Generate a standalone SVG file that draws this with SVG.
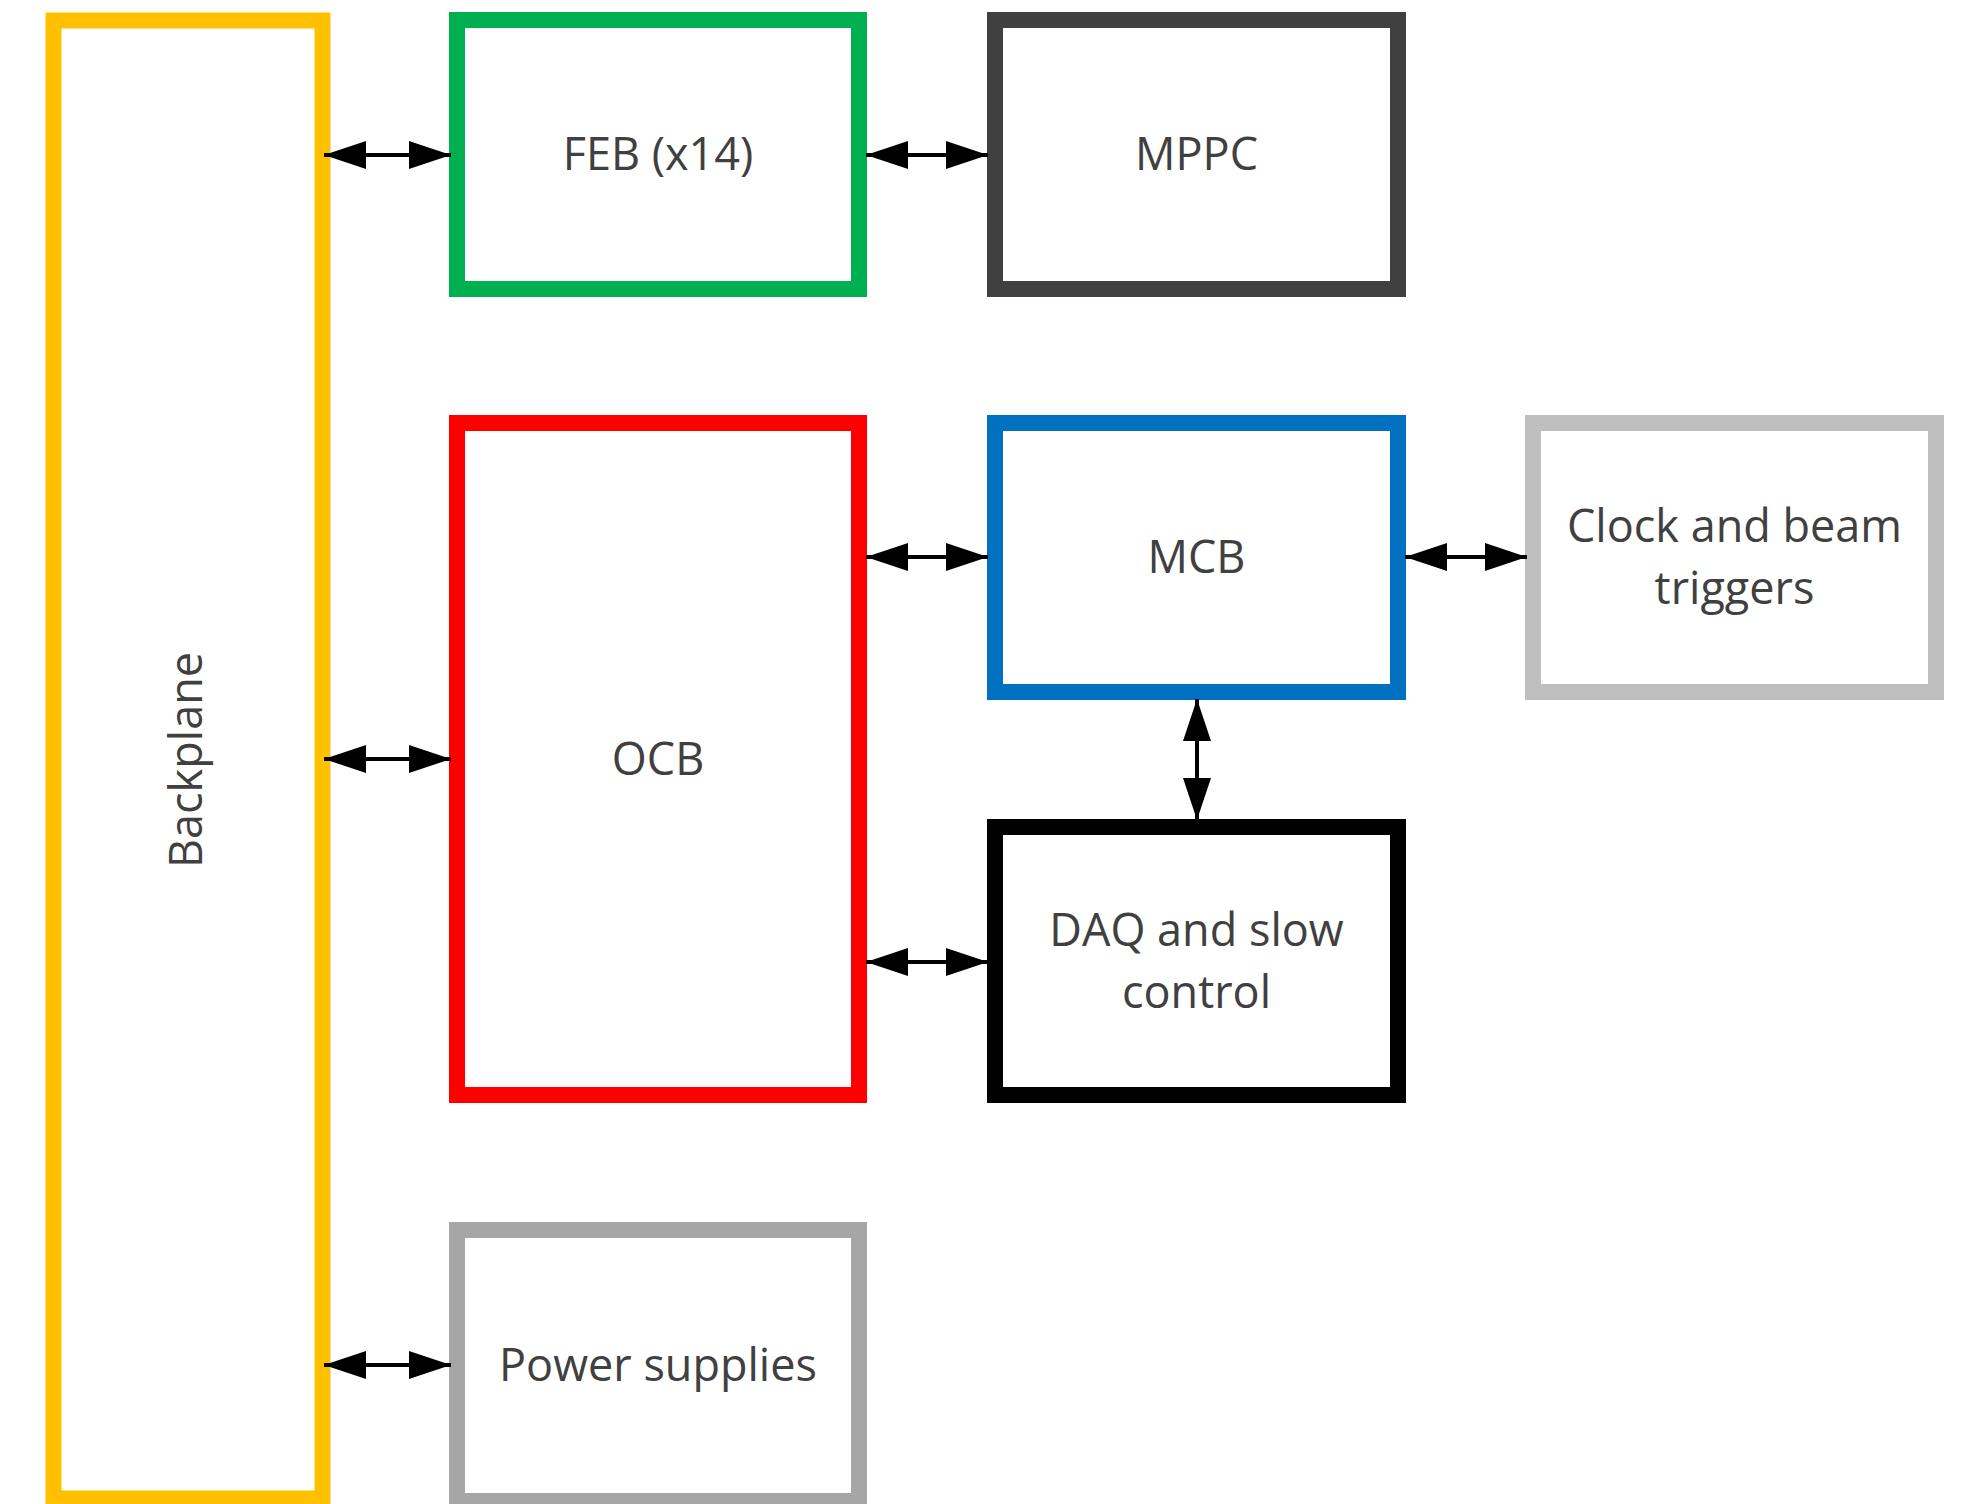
<svg xmlns="http://www.w3.org/2000/svg" width="1967" height="1504" viewBox="0 0 1967 1504">
  <style>
    .box { fill: #FFFFFF; stroke-width: 16; }
    .lbl { font-family: "Open Sans", "Noto Sans", "Liberation Sans", sans-serif; font-size: 45px; fill: #404040; text-anchor: middle; }
    .conn { stroke: #000000; stroke-width: 4; fill: none; marker-start: url(#ah); marker-end: url(#ah); }
  </style>
  <defs>
    <marker id="ah" viewBox="0 0 42 30" refX="42" refY="15" markerWidth="42" markerHeight="30" markerUnits="userSpaceOnUse" orient="auto-start-reverse">
      <path d="M0,1 L42,15 L0,29 z" fill="#000000"/>
    </marker>
  </defs>
  <rect width="1967" height="1504" fill="#FFFFFF"/>

  <g id="backplane">
    <rect class="box" x="53.5" y="20.5" width="269" height="1478" stroke="#FFC000" stroke-width="17"/>
    <text class="lbl" transform="translate(202,760) rotate(-90)" x="0" y="0">Backplane</text>
  </g>
  <g id="feb">
    <rect class="box" x="457" y="20" width="402" height="269" stroke="#00B050"/>
    <text class="lbl" x="658" y="170">FEB (x14)</text>
  </g>
  <g id="mppc">
    <rect class="box" x="995" y="20" width="403" height="269" stroke="#404040"/>
    <text class="lbl" x="1196.5" y="170">MPPC</text>
  </g>
  <g id="ocb">
    <rect class="box" x="457" y="423" width="402" height="672" stroke="#FF0000"/>
    <text class="lbl" x="658" y="775">OCB</text>
  </g>
  <g id="mcb">
    <rect class="box" x="995" y="423" width="403" height="269" stroke="#0070C0"/>
    <text class="lbl" x="1196.5" y="573">MCB</text>
  </g>
  <g id="clock">
    <rect class="box" x="1533" y="423" width="403" height="269" stroke="#BFBFBF"/>
    <text class="lbl" x="1734.5" y="542">Clock and beam</text>
    <text class="lbl" x="1734.5" y="604">triggers</text>
  </g>
  <g id="daq">
    <rect class="box" x="995" y="827" width="403" height="268" stroke="#000000"/>
    <text class="lbl" x="1196.5" y="946">DAQ and slow</text>
    <text class="lbl" x="1196.5" y="1008">control</text>
  </g>
  <g id="power">
    <rect class="box" x="457" y="1230" width="402" height="271" stroke="#A6A6A6"/>
    <text class="lbl" x="658" y="1381">Power supplies</text>
  </g>

  <g id="connectors">
    <line class="conn" x1="324" y1="155" x2="451" y2="155"/>
    <line class="conn" x1="866" y1="155" x2="988" y2="155"/>
    <line class="conn" x1="324" y1="759" x2="451" y2="759"/>
    <line class="conn" x1="866" y1="557" x2="988" y2="557"/>
    <line class="conn" x1="866" y1="962" x2="988" y2="962"/>
    <line class="conn" x1="1405" y1="557" x2="1527" y2="557"/>
    <line class="conn" x1="1197" y1="699" x2="1197" y2="820"/>
    <line class="conn" x1="324" y1="1365" x2="451" y2="1365"/>
  </g>
</svg>
